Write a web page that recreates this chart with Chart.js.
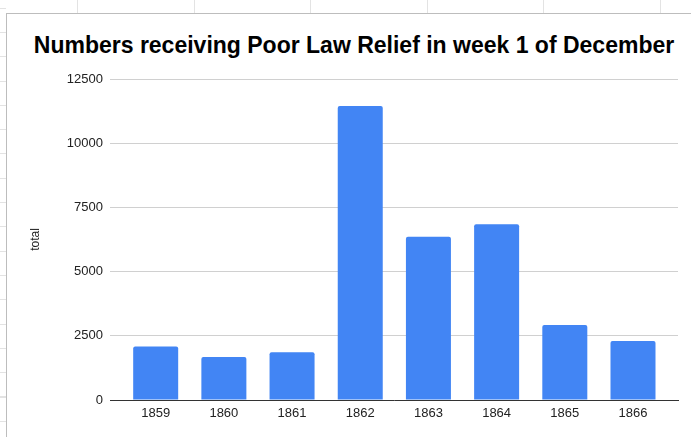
<!DOCTYPE html>
<html>
<head>
<meta charset="utf-8">
<script src="https://cdn.jsdelivr.net/npm/chart.js@4"></script>
<style>
    html, body { margin: 0; padding: 0; background: #fff; }
    body { width: 691px; height: 437px; position: relative; overflow: hidden; }
    /* sheet cells peeking out behind the chart box */
    .sheet-top {
        position: absolute; left: 0; top: 0; width: 691px; height: 13px;
        background: repeating-linear-gradient(90deg, transparent 0, transparent 77px, #e3e3e3 77px, #e3e3e3 78px, transparent 78px, transparent 116.6px);
    }
    .sheet-left {
        position: absolute; left: 0; top: 0; width: 6px; height: 437px;
        background: repeating-linear-gradient(180deg, transparent 0, transparent 7.7px, #e3e3e3 7.7px, #e3e3e3 8.7px, transparent 8.7px, transparent 24.3px);
    }
    .box {
        position: absolute; left: 6px; top: 13px; right: 0; bottom: 0;
        border-left: 1px solid #bdbdbd; border-top: 1px solid #bdbdbd;
        background: #fff;
    }
    .title {
        position: absolute; left: 14px; width: 680px; top: 31px;
        text-align: center; white-space: nowrap;
        font: bold 23px "Liberation Sans", Arial, sans-serif;
        line-height: 28px; color: #000;
    }
    #chart { position: absolute; left: 0; top: 0; }
</style>
</head>
<body>
<div class="sheet-top"></div>
<div class="sheet-left"></div>
<div class="box"></div>
<div class="title">Numbers receiving Poor Law Relief in week 1 of December</div>
<canvas id="chart" width="691" height="437"></canvas>
<script>
// Weekly relief figures, first week of December
const years = ['1859', '1860', '1861', '1862', '1863', '1864', '1865', '1866'];
const totals = [2080, 1675, 1860, 11450, 6360, 6840, 2920, 2300];
const yTicks = [0, 2500, 5000, 7500, 10000, 12500];

const points = totals.map((v, i) => ({ x: i, y: v }));

Chart.defaults.font.family = '"Liberation Sans", Arial, sans-serif';
Chart.defaults.color = '#444';

new Chart(document.getElementById('chart'), {
    type: 'bar',
    data: {
        datasets: [{
            label: 'total',
            data: points,
            backgroundColor: '#4285f4',
            borderRadius: { topLeft: 2, topRight: 2 },
            borderSkipped: 'bottom',
            categoryPercentage: 1,
            barPercentage: 0.66
        }]
    },
    options: {
        responsive: false,
        animation: false,
        layout: { padding: { left: 0, right: 13, top: 79, bottom: 0 } },
        plugins: {
            legend: { display: false },
            tooltip: { enabled: false },
            title: { display: false }
        },
        scales: {
            x: {
                type: 'linear',
                offset: false,
                min: -0.67,
                max: 7.66,
                grid: { display: false, drawTicks: false },
                border: { display: true, color: '#333', width: 1 },
                afterBuildTicks: scale => {
                    scale.ticks = years.map((_, i) => ({ value: i }));
                },
                ticks: {
                    autoSkip: false,
                    padding: 6,
                    color: '#222',
                    font: { size: 13 },
                    callback: v => years[v]
                },
                afterFit: scale => { scale.height = 37; }
            },
            y: {
                min: 0,
                max: 12500,
                grid: { color: '#d0d0d0', drawTicks: false },
                border: { display: false },
                afterBuildTicks: scale => {
                    scale.ticks = yTicks.map(v => ({ value: v }));
                },
                ticks: {
                    padding: 7,
                    color: '#222',
                    font: { size: 13 },
                    callback: v => String(v)
                },
                title: {
                    display: true,
                    text: 'total',
                    color: '#222',
                    font: { size: 12 },
                    padding: { top: 28, bottom: 0 }
                },
                afterFit: scale => { scale.width = 110; }
            }
        }
    }
});
</script>
</body>
</html>
